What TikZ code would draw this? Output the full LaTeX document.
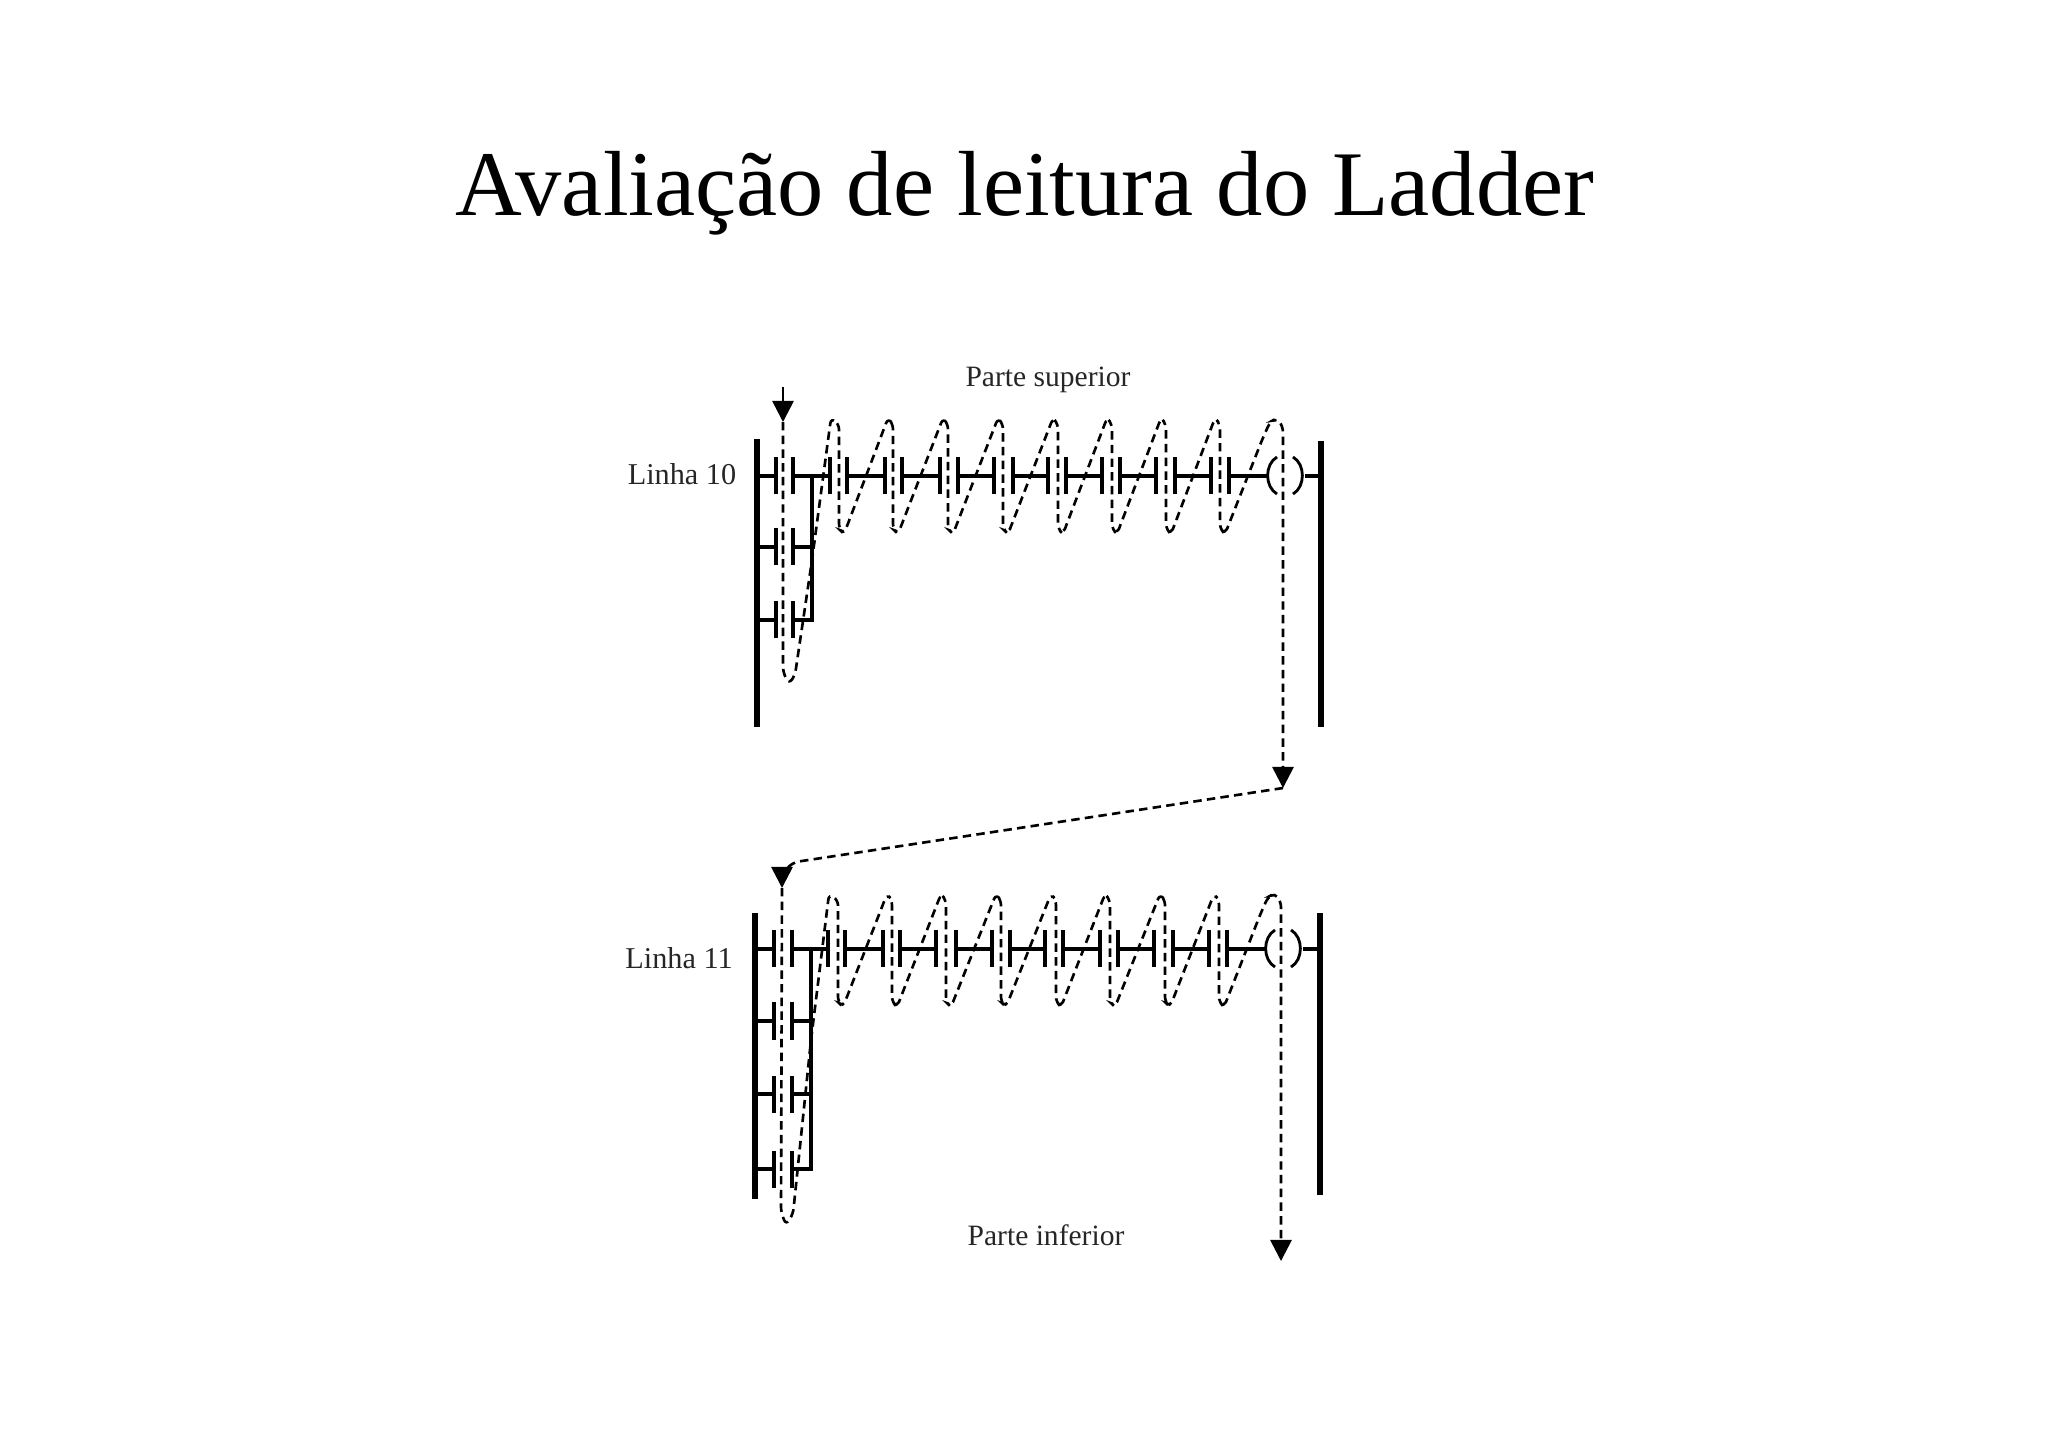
\documentclass[tikz,border=0pt]{standalone}
\usepackage{fontspec}
\setmainfont{Liberation Serif}
\usetikzlibrary{arrows.meta}
\tikzset{
  rail/.style={draw,line width=1.5pt},
  wire/.style={draw,line width=0.9pt},
  plate/.style={draw,line width=1pt},
  coil/.style={draw,line width=0.8pt},
  scan/.style={draw,line width=0.75pt,dash pattern=on 2.4pt off 1.5pt,rounded corners=1.5pt},
  tip/.style={-{Triangle[length=6pt,width=6pt]}},
  tag/.style={font=\fontsize{8.4}{10}\selectfont,text=black!85,inner sep=0pt},
  rowtag/.style={font=\fontsize{8.6}{10}\selectfont,text=black!85,inner sep=0pt}
}

\begin{document}
\begin{tikzpicture}[x=0.01cm,y=-0.01cm]
\useasboundingbox (0,0) rectangle (2048,1447);

\node[anchor=base,font=\fontsize{26.3}{30}\selectfont,inner sep=0pt] (title) at (1025,215) {Avaliação de leitura do Ladder};
\node[tag] (top) at (1048,380) {Parte superior};
\node[tag] (bottom) at (1046,1235) {Parte inferior};
\node[rowtag] (line10) at (682,474) {Linha 10};
\node[rowtag] (line11) at (679,958) {Linha 11};

% upper rung
\path[rail] (757,439) -- (757,727);
\path[rail] (1321,441) -- (1321,727);
\path[wire] (757,476) -- (776,476) (793,476) -- (830,476) (847,476) -- (885,476) (902,476) -- (940,476) (958,476) -- (994,476) (1013,476) -- (1048,476) (1066,476) -- (1102,476) (1120,476) -- (1156,476) (1175,476) -- (1211,476) (1229,476) -- (1267,476) (1305,476) -- (1321,476);
\path[wire] (757,547) -- (776,547) (793,547) -- (812,547);
\path[wire] (757,620) -- (776,620) (793,620) -- (812,620) -- (812,476);
\path[plate] (776,457) -- (776,494) (793,457) -- (793,494) (830,457) -- (830,494) (847,457) -- (847,494) (885,457) -- (885,494) (902,457) -- (902,494) (940,457) -- (940,494) (958,457) -- (958,494) (994,457) -- (994,494) (1013,457) -- (1013,494) (1048,457) -- (1048,494) (1066,457) -- (1066,494) (1102,457) -- (1102,494) (1120,457) -- (1120,494) (1156,457) -- (1156,494) (1175,457) -- (1175,494) (1211,457) -- (1211,494) (1229,457) -- (1229,494);
\path[plate] (776,528) -- (776,565) (793,528) -- (793,565) (776,601) -- (776,638) (793,601) -- (793,638);
\path[coil] (1277,457) to[bend right=60] (1277,494);
\path[coil] (1293,457) to[bend left=60] (1293,494);

% lower rung
\path[rail] (755,913) -- (755,1199);
\path[rail] (1320,913) -- (1320,1195);
\path[wire] (755,949) -- (774,949) (792,949) -- (828,949) (845,949) -- (883,949) (900,949) -- (936,949) (956,949) -- (992,949) (1010,949) -- (1045,949) (1063,949) -- (1100,949) (1118,949) -- (1154,949) (1173,949) -- (1209,949) (1227,949) -- (1265,949) (1303,949) -- (1320,949);
\path[wire] (755,1021) -- (774,1021) (792,1021) -- (811,1021);
\path[wire] (755,1094) -- (774,1094) (792,1094) -- (811,1094);
\path[wire] (755,1169) -- (774,1169) (792,1169) -- (811,1169) -- (811,949);
\path[plate] (774,930) -- (774,967) (792,930) -- (792,967) (828,930) -- (828,967) (845,930) -- (845,967) (883,930) -- (883,967) (900,930) -- (900,967) (936,930) -- (936,967) (956,930) -- (956,967) (992,930) -- (992,967) (1010,930) -- (1010,967) (1045,930) -- (1045,967) (1063,930) -- (1063,967) (1100,930) -- (1100,967) (1118,930) -- (1118,967) (1154,930) -- (1154,967) (1173,930) -- (1173,967) (1209,930) -- (1209,967) (1227,930) -- (1227,967);
\path[plate] (774,1002) -- (774,1040) (792,1002) -- (792,1040) (774,1076) -- (774,1113) (792,1076) -- (792,1113) (774,1151) -- (774,1188) (792,1151) -- (792,1188);
\path[coil] (1275,930) to[bend right=60] (1275,967);
\path[coil] (1291,930) to[bend left=60] (1291,967);

% reading order
\coordinate (inA) at (783,387);
\coordinate (startA) at (783,422);
\coordinate (endA) at (1283,788);
\coordinate (startB) at (782,888);
\coordinate (endB) at (1281,1261);
\draw[line width=0.75pt,tip] (inA) -- (startA);
\draw[scan,tip] (startA) -- (783,672) -- (789,684) -- (795,675) -- (812,560) -- (831,418) -- (839,424) -- (839,529) -- (844,534) -- (888,418) -- (893,424) -- (893,529) -- (898,534) -- (943,418) -- (948,424) -- (948,529) -- (953,534) -- (998,418) -- (1003,424) -- (1003,529) -- (1008,534) -- (1053,418) -- (1058,424) -- (1058,529) -- (1063,534) -- (1107,418) -- (1112,424) -- (1112,529) -- (1117,534) -- (1161,418) -- (1166,424) -- (1166,529) -- (1171,534) -- (1215,418) -- (1220,424) -- (1220,529) -- (1225,534) -- (1262,440) -- (1270,422) -- (1277,418) -- (1283,427) -- (endA);
\draw[scan,tip,rounded corners=5pt] (endA) -- (782,864) -- (startB);
\draw[scan,tip] (startB) -- (781,1212) -- (786,1225) -- (793,1214) -- (811,1040) -- (829,894) -- (838,900) -- (838,1002) -- (843,1007) -- (887,894) -- (892,900) -- (892,1002) -- (897,1007) -- (941,894) -- (946,900) -- (946,1002) -- (951,1007) -- (996,894) -- (1001,900) -- (1001,1002) -- (1006,1007) -- (1051,894) -- (1056,900) -- (1056,1002) -- (1061,1007) -- (1105,894) -- (1110,900) -- (1110,1002) -- (1115,1007) -- (1160,894) -- (1165,900) -- (1165,1002) -- (1170,1007) -- (1214,894) -- (1219,900) -- (1219,1002) -- (1224,1007) -- (1260,915) -- (1268,897) -- (1275,893) -- (1281,902) -- (endB);
\end{tikzpicture}
\end{document}
